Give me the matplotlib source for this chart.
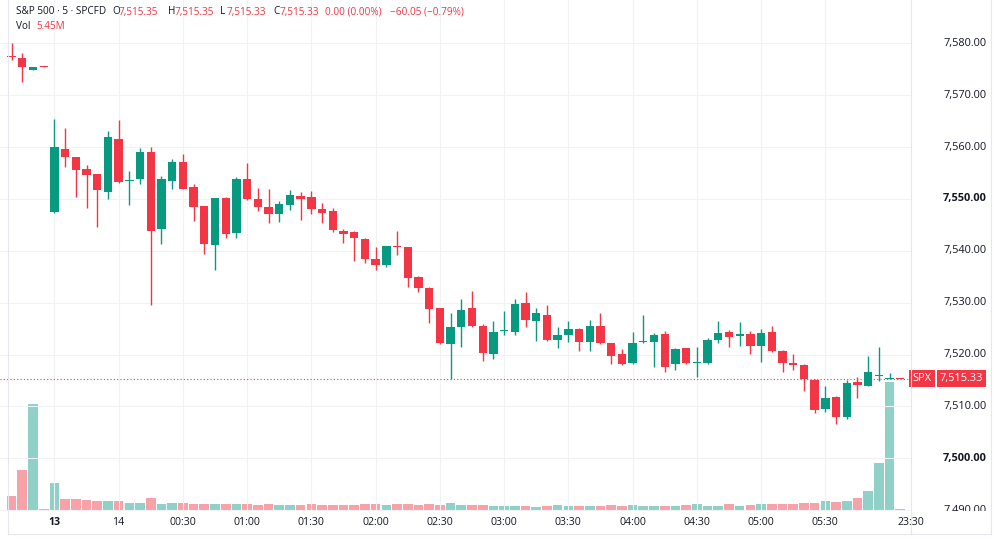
import matplotlib
matplotlib.use("Agg")
import matplotlib.pyplot as plt
from matplotlib.lines import Line2D
import numpy as np

plt.rcParams['font.family'] = ['Open Sans', 'DejaVu Sans']

# ---------------- data ----------------
bar_index = list(range(-4, 80))
opens = [7577.5, 7577.1, 7574.9, 7575.5,
         7547.5, 7559.6, 7558.0, 7555.8, 7554.8, 7551.3, 7561.6, 7553.4, 7553.8, 7559.0,
         7544.3, 7553.5, 7557.2, 7552.4, 7548.6, 7541.1, 7550.2, 7543.5, 7553.8, 7550.0,
         7548.5, 7547.1, 7548.8, 7550.6, 7550.3, 7548.1, 7547.7, 7543.9, 7543.7, 7542.2,
         7538.4, 7537.3, 7540.9, 7540.7, 7535.0, 7532.9, 7528.9, 7522.0, 7525.3, 7528.9,
         7525.5, 7520.2, 7524.5, 7524.4, 7529.9, 7526.5, 7527.7, 7522.8, 7523.8, 7525.0,
         7522.4, 7525.5, 7522.2, 7520.1, 7518.3, 7522.4, 7522.4, 7524.0, 7518.1, 7521.2,
         7518.4, 7518.3, 7522.8, 7524.3, 7523.6, 7524.0, 7521.7, 7524.3, 7520.6, 7518.4,
         7518.0, 7515.1, 7509.5, 7511.9, 7508.0, 7514.8, 7514.0, 7515.9, 7515.3, 7515.35]
highs = [7580.1, 7578.1, 7575.5, 7575.6,
         7565.4, 7563.6, 7558.1, 7556.5, 7554.9, 7563.1, 7565.2, 7555.4, 7559.8, 7560.0,
         7554.4, 7557.7, 7558.7, 7552.9, 7548.7, 7550.2, 7550.3, 7554.3, 7556.9, 7552.2,
         7551.9, 7549.7, 7551.7, 7551.3, 7551.6, 7549.2, 7548.2, 7544.2, 7543.9, 7542.4,
         7540.8, 7541.0, 7543.9, 7540.8, 7535.1, 7533.0, 7529.0, 7528.0, 7530.7, 7532.3,
         7525.8, 7526.5, 7528.4, 7530.7, 7532.1, 7528.9, 7529.6, 7525.3, 7526.5, 7525.1,
         7526.7, 7528.0, 7522.3, 7521.1, 7524.3, 7527.6, 7524.1, 7524.5, 7521.2, 7521.3,
         7521.5, 7523.2, 7526.5, 7524.7, 7526.2, 7524.6, 7524.9, 7525.6, 7520.8, 7520.1,
         7518.1, 7515.2, 7514.0, 7512.0, 7515.1, 7515.7, 7519.7, 7521.5, 7516.4, 7515.35]
lows = [7576.7, 7572.5, 7574.8, 7575.4,
        7547.3, 7556.1, 7550.4, 7548.3, 7544.5, 7549.9, 7553.0, 7548.8, 7552.8, 7529.6,
        7541.4, 7551.9, 7551.9, 7545.7, 7539.3, 7536.4, 7542.4, 7542.4, 7549.8, 7547.7,
        7545.4, 7545.6, 7547.9, 7546.0, 7547.1, 7545.3, 7543.7, 7541.6, 7538.1, 7537.6,
        7536.3, 7536.8, 7539.2, 7533.0, 7532.1, 7526.1, 7522.1, 7515.2, 7521.5, 7525.4,
        7518.8, 7519.1, 7523.8, 7523.8, 7525.4, 7522.7, 7522.7, 7521.2, 7522.5, 7520.7,
        7520.7, 7522.1, 7518.1, 7518.0, 7518.1, 7522.3, 7517.7, 7516.7, 7517.0, 7518.2,
        7515.7, 7518.2, 7522.2, 7521.4, 7521.7, 7520.2, 7518.6, 7520.5, 7516.7, 7517.0,
        7513.0, 7508.7, 7509.0, 7506.6, 7507.6, 7511.6, 7513.9, 7514.9, 7515.2, 7515.33]
closes = [7577.4, 7575.4, 7575.4, 7575.4,
          7560.0, 7558.1, 7555.6, 7554.6, 7551.7, 7561.9, 7553.3, 7553.6, 7559.0, 7543.8,
          7553.8, 7557.1, 7552.0, 7548.4, 7541.4, 7550.1, 7543.3, 7553.8, 7549.9, 7548.4,
          7547.1, 7549.0, 7550.8, 7550.0, 7548.1, 7547.3, 7544.0, 7543.2, 7542.4, 7538.4,
          7537.2, 7540.9, 7540.7, 7534.8, 7532.9, 7528.8, 7522.2, 7525.3, 7528.6, 7525.5,
          7520.4, 7524.4, 7524.7, 7529.7, 7526.7, 7528.1, 7522.8, 7523.7, 7525.0, 7522.4,
          7525.5, 7522.2, 7519.8, 7518.1, 7522.2, 7522.6, 7523.8, 7517.7, 7521.0, 7518.3,
          7518.6, 7522.8, 7524.2, 7523.4, 7523.9, 7521.7, 7524.2, 7520.6, 7518.3, 7518.0,
          7515.2, 7509.4, 7511.7, 7507.9, 7514.6, 7514.1, 7516.6, 7516.1, 7515.5, 7515.33]
volumes_m = [60, 168, 444, 5.5,
             112, 47, 47, 43, 39, 36, 39, 29, 29, 50,
             26, 29, 29, 26, 25, 26, 26, 25, 25, 22,
             25, 22, 22, 22, 25, 22, 22, 22, 22, 25,
             25, 22, 25, 25, 22, 25, 22, 28, 22, 22,
             22, 18, 17, 17, 17, 14, 18, 21, 18, 18,
             18, 18, 21, 18, 21, 18, 18, 18, 18, 21,
             25, 18, 18, 25, 18, 21, 25, 25, 26, 26,
             29, 29, 38, 35, 38, 52, 81, 198, 536, 5.45]

time_tick_pos = [0, 6, 12, 18, 24, 30, 36, 42, 48, 54, 60, 66, 72, 80]
time_tick_labels = ["13", "14", "00:30", "01:00", "01:30", "02:00", "02:30",
                    "03:00", "03:30", "04:00", "04:30", "05:00", "05:30", "23:30"]
price_ticks = [7490, 7500, 7510, 7520, 7530, 7540, 7550, 7560, 7570, 7580]
bold_price_ticks = [7500, 7550]
last_price = 7515.33
symbol_tag = "SPX"
header_title = "S&P 500 · 5 · SPCFD"
header_ohlc_labels = ["O", "H", "L", "C"]
header_ohlc_values = ["7,515.35", "7,515.35", "7,515.33", "7,515.33"]
header_change = ["0.00 (0.00%)", "\u221260.05 (\u22120.79%)"]
vol_title = "Vol"
vol_label = "5.45M"

# ---------------- style ----------------
UP = "#089981"
DOWN = "#F23645"
UP_VOL = "#8FD0C7"
DOWN_VOL = "#F7A2A8"
GRID = "#F0F2F6"
TXT = "#131722"
FONT = 7.6
HFONT = 7.2

W, H = 1000, 538
fig = plt.figure(figsize=(W / 100, H / 100), dpi=100)
fig.patch.set_facecolor("white")

plot_right = 911
plot_bottom = 511
ax_rect = [0, (H - plot_bottom) / H, plot_right / W, plot_bottom / H]
axv = fig.add_axes(ax_rect)
ax = fig.add_axes(ax_rect, sharex=axv)
ax.patch.set_visible(False)

x = np.array(bar_index, dtype=float)
o = np.array(opens); h = np.array(highs); l = np.array(lows); c = np.array(closes)
v = np.array(volumes_m)
up = c >= o
cols = np.where(up, UP, DOWN)
vcols = np.where(up, UP_VOL, DOWN_VOL)

# volume (overlay pane at the bottom)
axv.bar(x, v, width=0.9, color=vcols, linewidth=0)
vmax = v.max()
axv.set_ylim(-vmax * 0.0078, vmax * 3.99)
axv.axis("off")

# price axis limits
ax.set_xlim(-5.08, 79.9)
ax.set_ylim(7489.85, 7588.35)

# grid
for pt in price_ticks:
    ax.axhline(pt, color=GRID, lw=0.8, zorder=0)
for tp in time_tick_pos[:-1]:
    ax.axvline(tp, color=GRID, lw=0.8, zorder=0)

# candles
ax.vlines(x, l, h, colors=cols, lw=1.0, zorder=2)
body_bottom = np.minimum(o, c)
body_h = np.maximum(np.abs(c - o), 0.22)
ax.bar(x, body_h, width=0.78, bottom=body_bottom, color=cols, linewidth=0, zorder=3)

# last price dotted line
ax.axhline(last_price, color=DOWN, lw=0.8, ls=(0, (1, 2)), zorder=1)

ax.set_xticks(time_tick_pos)
ax.set_xticklabels(time_tick_labels)
ax.tick_params(axis="x", length=0, pad=4.5, labelsize=FONT, labelcolor=TXT)
for lab in ax.get_xticklabels():
    if lab.get_text() == "13":
        lab.set_fontweight("bold")
ax.set_yticks([])
for s in ax.spines.values():
    s.set_visible(False)

# price scale axes
axp = fig.add_axes([plot_right / W, (H - plot_bottom) / H, (W - plot_right) / W, plot_bottom / H])
axp.set_ylim(ax.get_ylim())
axp.set_xlim(0, W - plot_right)
axp.axis("off")
for pt in price_ticks:
    axp.text(32, pt, f"{pt:,.2f}", ha="left", va="center", fontsize=7.9, color=TXT,
             fontweight="bold" if pt in bold_price_ticks else "normal", clip_on=True)
axp.text(11, last_price, symbol_tag, ha="center", va="center", fontsize=7.9, color="white",
         bbox=dict(boxstyle="square,pad=0.28", fc=DOWN, ec="none"), clip_on=False)
axp.text(50.5, last_price, f"{last_price:,.2f}", ha="center", va="center", fontsize=7.9,
         color="white", bbox=dict(boxstyle="square,pad=0.28", fc=DOWN, ec="none"), clip_on=False)

# frame lines
FR = "#E6E8EE"
fig.add_artist(Line2D([plot_right / W] * 2, [(H - 534) / H, 1], color=FR, lw=0.8))
fig.add_artist(Line2D([8 / W] * 2, [(H - 534) / H, 1], color=FR, lw=0.8))
fig.add_artist(Line2D([8 / W, 991 / W], [(H - 534) / H] * 2, color=FR, lw=0.8))
fig.add_artist(Line2D([991 / W] * 2, [(H - 534) / H, 1], color=FR, lw=0.8))

# header (left edges in pixels)
def ftxt(px, py, s, color):
    fig.text(px / W, 1 - py / H, s, fontsize=HFONT, color=color, ha="left", va="center")

ftxt(16, 12, header_title, TXT)
label_x = [112, 168, 220, 273]
for lx, lab, val in zip(label_x, header_ohlc_labels, header_ohlc_values):
    ftxt(lx, 12, lab, TXT)
    ftxt(lx + 7, 12, val, DOWN)
for cx, s in zip([325, 390], header_change):
    ftxt(cx, 12, s, DOWN)
ftxt(16, 26.5, vol_title, TXT)
ftxt(36, 26.5, vol_label, DOWN)

fig.savefig("out.png", dpi=100, facecolor="white")
